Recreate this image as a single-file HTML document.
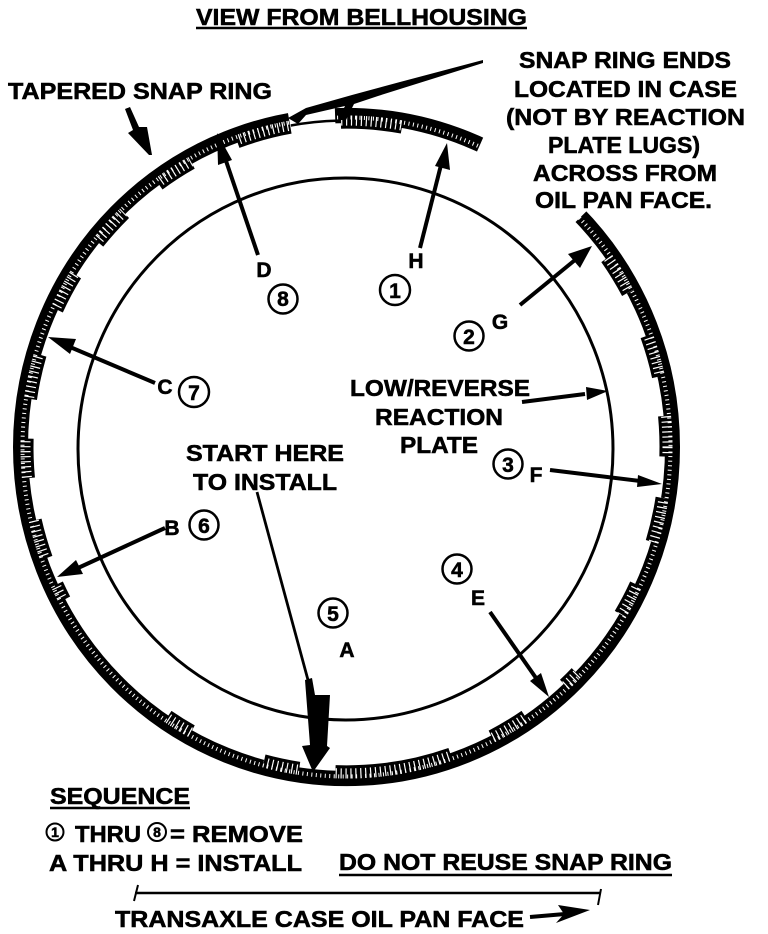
<!DOCTYPE html>
<html><head><meta charset="utf-8"><style>
html,body{margin:0;padding:0;background:#fff}
svg{display:block}
text{font-family:"Liberation Sans",sans-serif;font-weight:700;fill:#000;stroke:#000;stroke-width:.55px;font-size:23px}
.c{font-size:21px;text-anchor:middle}
</style></head><body>
<svg width="768" height="934" viewBox="0 0 768 934" xmlns="http://www.w3.org/2000/svg">
<defs>
  <g id="lugs" fill="none" stroke-width="19">
    <circle r="322.5" pathLength="360" stroke-dasharray="7.2 360" transform="rotate(324.5)"/>
    <circle r="322.5" pathLength="360" stroke-dasharray="7.5 360" transform="rotate(340)"/>
    <circle r="322.5" pathLength="360" stroke-dasharray="7.2 360" transform="rotate(354.5)"/>
    <circle r="322.5" pathLength="360" stroke-dasharray="8 360" transform="rotate(9)"/>
    <circle r="322.5" pathLength="360" stroke-dasharray="6 360" transform="rotate(25)"/>
    <circle r="322.5" pathLength="360" stroke-dasharray="3 360" transform="rotate(44)"/>
    <circle r="322.5" pathLength="360" stroke-dasharray="7 360" transform="rotate(56)"/>
    <circle r="322.5" pathLength="360" stroke-dasharray="21 360" transform="rotate(71)"/>
    <circle r="322.5" pathLength="360" stroke-dasharray="6.5 360" transform="rotate(98.5)"/>
    <circle r="322.5" pathLength="360" stroke-dasharray="5 360" transform="rotate(119)"/>
    <circle r="322.5" pathLength="360" stroke-dasharray="3 360" transform="rotate(152)"/>
    <circle r="322.5" pathLength="360" stroke-dasharray="7 360" transform="rotate(160)"/>
    <circle r="322.5" pathLength="360" stroke-dasharray="7 360" transform="rotate(174.5)"/>
    <circle r="322.5" pathLength="360" stroke-dasharray="8 360" transform="rotate(188.5)"/>
    <circle r="322.5" pathLength="360" stroke-dasharray="7 360" transform="rotate(205)"/>
    <circle r="322.5" pathLength="360" stroke-dasharray="7 360" transform="rotate(219)"/>
    <circle r="322.5" pathLength="360" stroke-dasharray="7 360" transform="rotate(234)"/>
    <circle r="322.5" pathLength="360" stroke-dasharray="10 360" transform="rotate(250)"/>
    <circle r="322.5" pathLength="360" stroke-dasharray="11 360" transform="rotate(269)"/>
  </g>
  <mask id="lm" maskUnits="userSpaceOnUse" x="-400" y="-400" width="800" height="800">
    <use href="#lugs" stroke="#fff"/>
  </mask>
</defs>
<ellipse cx="345.5" cy="449" rx="267.5" ry="271" fill="none" stroke="#000" stroke-width="3"/>
<g transform="translate(346.5,447) scale(1,1.017)" fill="none">
  <circle r="326" stroke="#000" stroke-width="15"/>
  <use href="#lugs" stroke="#000"/>
  <circle r="324" stroke="#fff" stroke-width="4" pathLength="2040" stroke-dasharray="1 3.5"/>
  <g mask="url(#lm)"><circle r="321" stroke="#fff" stroke-width="10" pathLength="2040" stroke-dasharray="1.2 3.8"/></g>
  <circle r="328" pathLength="360" stroke="#fff" stroke-width="34" stroke-dasharray="8 352" transform="rotate(260)"/>
  <circle r="328" pathLength="360" stroke="#fff" stroke-width="34" stroke-dasharray="21.7 338.3" transform="rotate(294.3)"/>
  <circle r="321" pathLength="360" stroke="#000" stroke-width="2.5" stroke-dasharray="8.5 360" transform="rotate(260)"/>
</g>
<!-- long top arrow -->
<polygon fill="#000" points="483,60 400,82 352,95 306,108 288,118 298,124 306,115 345,106 338,120 346,120 354,104 378,96 483,63"/>
<!-- tapered ring arrow -->
<polygon fill="#000" points="125,109 130,107 139,127 147,127 152,155 149,155 128,133 133,130"/>
<g stroke="#000" stroke-width="4" fill="#000">
  <line x1="420" y1="248" x2="441" y2="165"/><polygon stroke="none" points="447,143 450,170 435,166"/>
  <line x1="258" y1="255" x2="224" y2="155"/><polygon stroke="none" points="217,133 232,160 218,165"/>
  <line x1="520" y1="305" x2="575" y2="260"/><polygon stroke="none" points="592,246 580,268 568,254"/>
  <line x1="155" y1="383" x2="70" y2="347"/><polygon stroke="none" points="48,337 76,339 70,354"/>
  <line x1="165" y1="528" x2="78" y2="568"/><polygon stroke="none" points="57,577 76,560 83,574"/>
  <line x1="522" y1="402" x2="585" y2="394"/><polygon stroke="none" points="608,391 586,387 587,400"/>
  <line x1="550" y1="470" x2="640" y2="481"/><polygon stroke="none" points="662,484 638,475 637,487"/>
  <line x1="490" y1="612" x2="536" y2="678"/><polygon stroke="none" points="549,697 530,681 541,673"/>
  <line x1="257" y1="492" x2="308" y2="680" stroke-width="2.8"/>
  <polygon stroke="none" points="305,680 312,678 315,695 330,695 327,746 330,748 313,772 302,746 310,745"/>
  <line x1="135" y1="893" x2="601" y2="893" stroke-width="2.5"/>
  <line x1="138" y1="885" x2="134" y2="901" stroke-width="2"/>
  <line x1="601" y1="889" x2="598" y2="905" stroke-width="2"/>
  <line x1="530" y1="917" x2="565" y2="914" stroke-width="4"/>
  <polygon stroke="none" points="590,910 558,905 564,914 556,923"/>
  <line x1="196" y1="28" x2="527" y2="28" stroke-width="2.5"/>
  <line x1="50" y1="808" x2="190" y2="808" stroke-width="2.5"/>
  <line x1="339" y1="875" x2="672" y2="875" stroke-width="2.5"/>
</g>
<g fill="#fff" stroke="#000" stroke-width="2.5">
  <circle cx="283" cy="299" r="14.5"/><circle cx="395" cy="290" r="15"/>
  <circle cx="469" cy="336" r="14.5"/><circle cx="194" cy="392" r="15"/>
  <circle cx="204" cy="525" r="14.5"/><circle cx="508" cy="464" r="14.5"/>
  <circle cx="457" cy="569" r="14.5"/><circle cx="333" cy="613" r="14.5"/>
  <circle cx="55" cy="832" r="8.5" stroke-width="2"/><circle cx="157" cy="832" r="9" stroke-width="2"/>
</g>
<text x="196" y="25" textLength="331" lengthAdjust="spacingAndGlyphs">VIEW FROM BELLHOUSING</text>
<text x="519" y="68" textLength="212" lengthAdjust="spacingAndGlyphs">SNAP RING ENDS</text>
<text x="514" y="97" textLength="223" lengthAdjust="spacingAndGlyphs">LOCATED IN CASE</text>
<text x="506" y="125" textLength="239" lengthAdjust="spacingAndGlyphs">(NOT BY REACTION</text>
<text x="548" y="153" textLength="152" lengthAdjust="spacingAndGlyphs">PLATE LUGS)</text>
<text x="533" y="181" textLength="184" lengthAdjust="spacingAndGlyphs">ACROSS FROM</text>
<text x="535" y="208" textLength="177" lengthAdjust="spacingAndGlyphs">OIL PAN FACE.</text>
<text x="8" y="99" textLength="264" lengthAdjust="spacingAndGlyphs">TAPERED SNAP RING</text>
<text x="350" y="396" textLength="180" lengthAdjust="spacingAndGlyphs">LOW/REVERSE</text>
<text x="375" y="425" textLength="128" lengthAdjust="spacingAndGlyphs">REACTION</text>
<text x="400" y="453" textLength="78" lengthAdjust="spacingAndGlyphs">PLATE</text>
<text x="186" y="461" textLength="158" lengthAdjust="spacingAndGlyphs">START HERE</text>
<text x="193" y="490" textLength="144" lengthAdjust="spacingAndGlyphs">TO INSTALL</text>
<text class="c" x="264" y="277">D</text><text class="c" x="416" y="268">H</text>
<text class="c" x="500" y="329">G</text><text class="c" x="165" y="394">C</text>
<text class="c" x="172" y="535">B</text><text class="c" x="536" y="482">F</text>
<text class="c" x="478" y="605">E</text><text class="c" x="347" y="657">A</text>
<text class="c" x="283" y="306">8</text><text class="c" x="395" y="298">1</text>
<text class="c" x="469" y="344">2</text><text class="c" x="194" y="400">7</text>
<text class="c" x="204" y="533">6</text><text class="c" x="508" y="472">3</text>
<text class="c" x="457" y="577">4</text><text class="c" x="333" y="621">5</text>
<text class="c" x="55" y="837" style="font-size:14px">1</text>
<text class="c" x="157" y="837" style="font-size:14px">8</text>
<text x="50" y="804" textLength="140" lengthAdjust="spacingAndGlyphs">SEQUENCE</text>
<text x="75" y="842" textLength="66" lengthAdjust="spacingAndGlyphs">THRU</text>
<text x="170" y="842" textLength="133" lengthAdjust="spacingAndGlyphs">= REMOVE</text>
<text x="49" y="871" textLength="253" lengthAdjust="spacingAndGlyphs">A THRU H = INSTALL</text>
<text x="339" y="870" textLength="333" lengthAdjust="spacingAndGlyphs">DO NOT REUSE SNAP RING</text>
<text x="115" y="927" textLength="409" lengthAdjust="spacingAndGlyphs">TRANSAXLE CASE OIL PAN FACE</text>
</svg>
</body></html>
